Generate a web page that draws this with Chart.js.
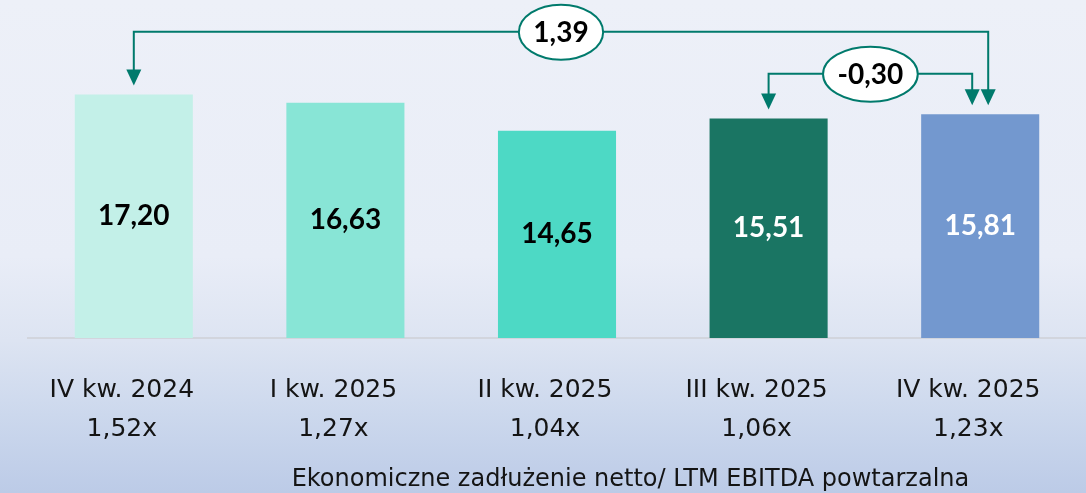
<!DOCTYPE html>
<html>
<head>
<meta charset="utf-8">
<script src="https://cdn.jsdelivr.net/npm/chart.js"></script>
<style>
  html, body { margin: 0; padding: 0; overflow: hidden; }
  body {
    width: 1086px;
    height: 493px;
    background: linear-gradient(to bottom, #edf0f8 0%, #e9edf7 52%, #dde4f2 69%, #ccd8ed 84%, #bccbe7 100%);
  }
  canvas { display: block; }
</style>
</head>
<body>
<canvas id="debtChart" width="1086" height="493"></canvas>
<script>
// === Values ===
const quarters = ["IV kw. 2024", "I kw. 2025", "II kw. 2025", "III kw. 2025", "IV kw. 2025"];
const leverage = ["1,52x", "1,27x", "1,04x", "1,06x", "1,23x"];
const netDebt = [17.2, 16.63, 14.65, 15.51, 15.81];

const barColors = ["#c3f0e8", "#88e5d6", "#4dd9c5", "#1a7563", "#7398cf"];
const valueColors = ["#000000", "#000000", "#000000", "#ffffff", "#ffffff"];

// === Change brackets drawn above the bars (from bar -> to bar) ===
const changeFrom = [0, 3];
const changeTo = [4, 4];
const changeText = ["1,39", "-0,30"];

const axisTitle = "Ekonomiczne zadłużenie netto/ LTM EBITDA powtarzalna";

const TEAL = "#007a6c";

// format 17.2 -> "17,20"
function plNumber(v) {
  return v.toFixed(2).replace(".", ",");
}

// === Plugin: value labels inside the bars ===
const barValuesPlugin = {
  id: "barValues",
  afterDatasetsDraw(chart) {
    const ctx = chart.ctx;
    const meta = chart.getDatasetMeta(0);
    ctx.save();
    ctx.font = "bold 28px Lato";
    ctx.textAlign = "center";
    ctx.textBaseline = "middle";
    meta.data.forEach((bar, i) => {
      ctx.fillStyle = valueColors[i];
      ctx.fillText(plNumber(netDebt[i]), bar.x, (bar.y + bar.base) / 2);
    });
    ctx.restore();
  },
};

// === Plugin: bracket arrows with the change in an ellipse ===
const bracketPlugin = {
  id: "brackets",
  afterDraw(chart) {
    const ctx = chart.ctx;
    const xs = chart.scales.x;
    const ys = chart.scales.y;
    const levels = [21.65, 18.68]; // height of the connectors, in axis units
    const toShift = [8, -8]; // two arrows land on the last bar side by side
    const gap = 9; // space between arrow tip and bar top
    const headW = 15;
    const headH = 16;

    ctx.save();
    ctx.strokeStyle = TEAL;
    ctx.fillStyle = TEAL;
    ctx.lineWidth = 2;

    changeFrom.forEach((from, k) => {
      const to = changeTo[k];
      const x1 = xs.getPixelForValue(from);
      const x2 = xs.getPixelForValue(to) + toShift[k];
      const tip1 = ys.getPixelForValue(netDebt[from]) - gap;
      const tip2 = ys.getPixelForValue(netDebt[to]) - gap;
      const lineY = ys.getPixelForValue(levels[k]);

      ctx.beginPath();
      ctx.moveTo(x1, tip1 - headH + 1);
      ctx.lineTo(x1, lineY);
      ctx.lineTo(x2, lineY);
      ctx.lineTo(x2, tip2 - headH + 1);
      ctx.stroke();

      [[x1, tip1], [x2, tip2]].forEach(([x, t]) => {
        ctx.beginPath();
        ctx.moveTo(x - headW / 2, t - headH);
        ctx.lineTo(x + headW / 2, t - headH);
        ctx.lineTo(x, t);
        ctx.closePath();
        ctx.fill();
      });

      // ellipse with the value
      const cx = (x1 + x2) / 2;
      ctx.font = "bold 28px Lato";
      const tw = ctx.measureText(changeText[k]).width;
      ctx.beginPath();
      ctx.ellipse(cx, lineY + 0.5, tw / 2 + 14.5, 27.5, 0, 0, Math.PI * 2);
      ctx.fillStyle = "#ffffff";
      ctx.fill();
      ctx.stroke();
      ctx.fillStyle = "#000000";
      ctx.textAlign = "center";
      ctx.textBaseline = "middle";
      ctx.fillText(changeText[k], cx, lineY + 1);
      ctx.fillStyle = TEAL;
    });

    // title under the axis labels
    ctx.font = "24px 'DejaVu Sans'";
    ctx.fillStyle = "#141414";
    ctx.textAlign = "center";
    ctx.textBaseline = "middle";
    ctx.fillText(axisTitle, chart.width * 0.5805, 480);

    ctx.restore();
  },
};

function drawChart() {
  const ctx = document.getElementById("debtChart").getContext("2d");
  new Chart(ctx, {
    type: "bar",
    data: {
      labels: quarters.map((q, i) => [q, leverage[i]]),
      datasets: [
        {
          data: netDebt,
          backgroundColor: barColors,
          borderWidth: 0,
          categoryPercentage: 1,
          barPercentage: 0.558,
        },
      ],
    },
    options: {
      responsive: false,
      devicePixelRatio: 1,
      animation: false,
      layout: { padding: { top: 55, left: 28, right: 0, bottom: 0 } },
      plugins: {
        legend: { display: false },
        tooltip: { enabled: false },
      },
      scales: {
        x: {
          grid: { display: false, drawTicks: false },
          border: { display: true, color: "#d2d5dd", width: 2 },
          ticks: {
            color: "#141414",
            padding: 33,
            labelOffset: -12,
            maxRotation: 0,
            autoSkip: false,
            font: { family: "'DejaVu Sans'", size: 25, lineHeight: 1.56 },
          },
          afterFit(scale) {
            scale.height = 155;
          },
        },
        y: {
          display: false,
          min: 0,
          max: 20,
        },
      },
    },
    plugins: [barValuesPlugin, bracketPlugin],
  });
}

document.fonts.load("bold 28px Lato").then(drawChart, drawChart);
</script>
</body>
</html>
